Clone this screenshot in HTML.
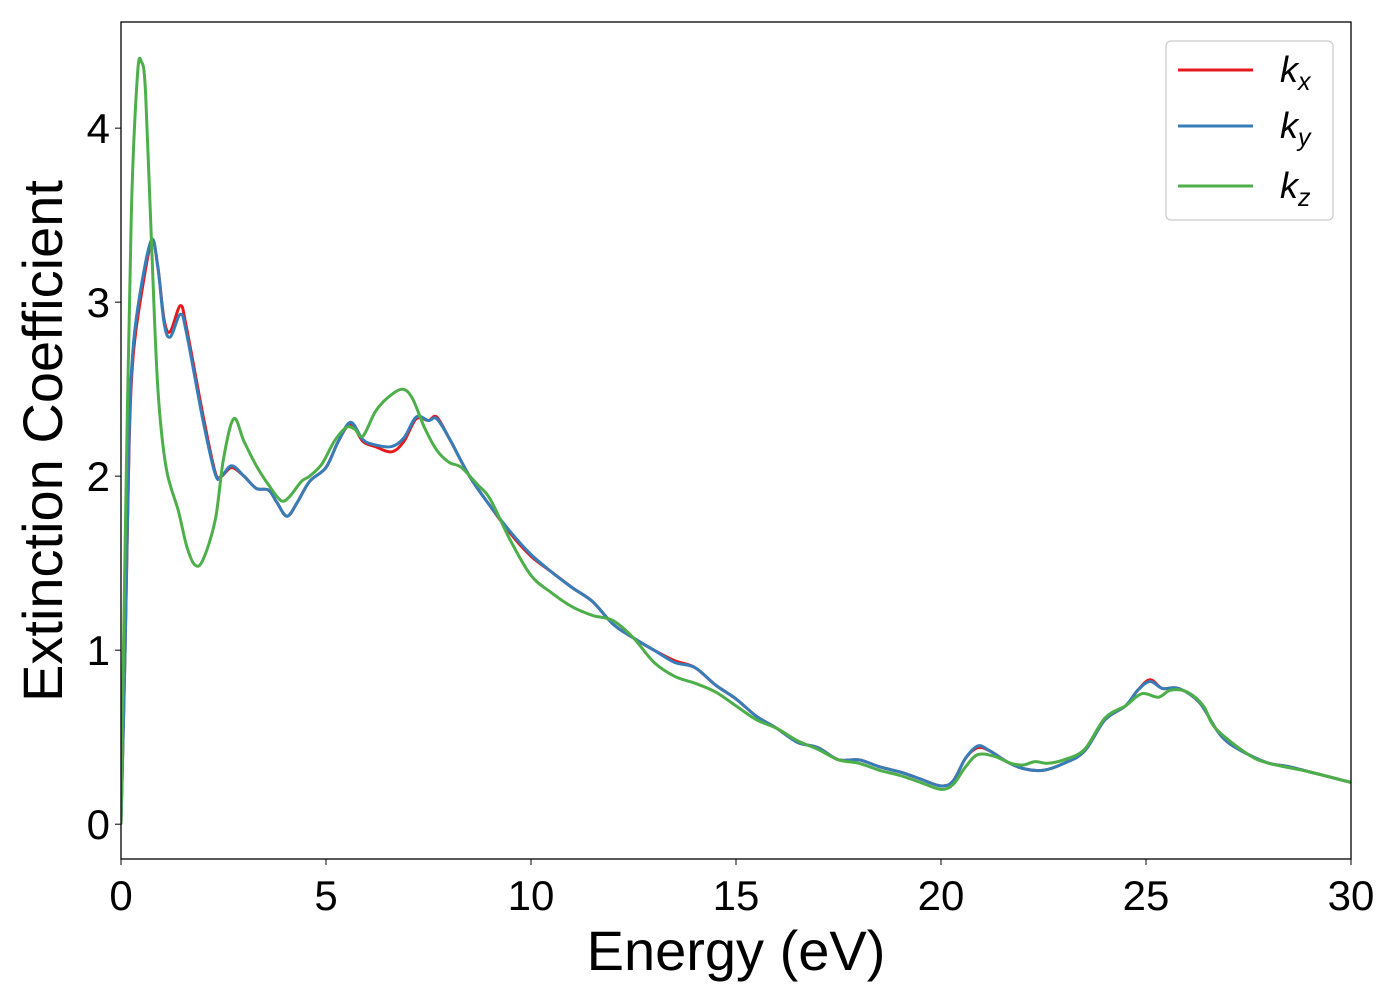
<!DOCTYPE html>
<html><head><meta charset="utf-8"><style>
html,body{margin:0;padding:0;background:#fff}
svg{display:block;font-family:"Liberation Sans","DejaVu Sans",sans-serif}
</style></head><body>
<svg id="chart" width="1400" height="1000">
<rect x="0" y="0" width="1400" height="1000" fill="#fff"/>
<g id="plot"></g>
<rect x="121" y="22" width="1230" height="837" fill="none" stroke="#000" stroke-width="1.3"/>
<g id="ticks"></g>
<text x="736" y="970" font-size="56" text-anchor="middle">Energy (eV)</text>
<text transform="translate(62,441) rotate(-90)" font-size="56" text-anchor="middle">Extinction Coefficient</text>
<g>
<rect x="1166" y="41" width="167" height="179" rx="5" fill="#fff" stroke="#ccc" stroke-width="1.3"/>
<line x1="1178" y1="70" x2="1253" y2="70" stroke="#e41a1c" stroke-width="3"/>
<text x="1280" y="82" font-size="36" font-style="italic">k<tspan font-size="25" dy="8">x</tspan></text>
<line x1="1178" y1="126" x2="1253" y2="126" stroke="#377eb8" stroke-width="3"/>
<text x="1280" y="138" font-size="36" font-style="italic">k<tspan font-size="25" dy="8">y</tspan></text>
<line x1="1178" y1="186" x2="1253" y2="186" stroke="#4daf4a" stroke-width="3"/>
<text x="1280" y="198" font-size="36" font-style="italic">k<tspan font-size="25" dy="8">z</tspan></text>
</g>
</svg>
<script>
const energyXY=[0,0.1,0.2,0.3,0.5,0.75,0.9,1.05,1.2,1.45,1.6,2.0,2.3,2.45,2.7,3.0,3.3,3.6,3.8,4.05,4.3,4.6,5.0,5.3,5.6,5.9,6.2,6.6,6.9,7.2,7.5,7.7,8.0,8.5,9.0,9.5,10,10.5,11,11.5,12,12.5,13,13.5,14,14.5,15,15.5,16,16.5,17,17.5,18,18.5,19,19.5,20,20.3,20.6,20.9,21.2,21.6,22,22.5,23,23.5,24,24.5,24.8,25.1,25.4,25.8,26.3,26.7,27,27.5,28,28.5,29,29.5,30];
const kxVals=[0,1.0,2.2,2.7,3.05,3.35,3.2,2.9,2.83,2.98,2.85,2.35,2.02,2.0,2.05,2.0,1.93,1.92,1.85,1.77,1.85,1.97,2.05,2.2,2.3,2.2,2.17,2.14,2.2,2.33,2.32,2.34,2.22,2.0,1.83,1.67,1.54,1.45,1.36,1.28,1.15,1.07,1.0,0.94,0.9,0.8,0.72,0.62,0.55,0.47,0.44,0.37,0.37,0.33,0.3,0.26,0.22,0.25,0.38,0.44,0.42,0.36,0.32,0.31,0.35,0.42,0.6,0.68,0.77,0.83,0.78,0.78,0.7,0.55,0.47,0.4,0.35,0.33,0.3,0.27,0.24];
const kyVals=[0,1.0,2.25,2.75,3.1,3.36,3.2,2.88,2.8,2.93,2.82,2.32,2.01,2.0,2.06,2.0,1.93,1.92,1.85,1.77,1.85,1.97,2.05,2.2,2.31,2.21,2.18,2.17,2.22,2.34,2.32,2.33,2.22,2.0,1.83,1.68,1.55,1.45,1.36,1.28,1.15,1.07,1.0,0.93,0.9,0.8,0.72,0.62,0.55,0.47,0.44,0.37,0.37,0.33,0.3,0.26,0.22,0.25,0.38,0.45,0.42,0.36,0.32,0.31,0.35,0.42,0.6,0.68,0.77,0.82,0.78,0.78,0.7,0.55,0.47,0.4,0.35,0.33,0.3,0.27,0.24];
const energyZ=[0,0.1,0.25,0.4,0.5,0.6,0.75,0.9,1.1,1.4,1.6,1.8,2.0,2.3,2.5,2.75,3.0,3.3,3.6,3.9,4.1,4.4,4.6,4.9,5.2,5.5,5.7,5.9,6.2,6.5,6.85,7.1,7.4,7.7,8.0,8.3,8.7,9.0,9.5,10,10.5,11,11.5,12,12.5,13,13.5,14,14.5,15,15.5,16,16.5,17,17.5,18,18.5,19,19.5,20,20.3,20.6,20.9,21.3,21.7,22,22.3,22.6,23,23.5,24,24.5,24.9,25.3,25.6,26,26.4,26.7,27.5,28,29,30];
const kzVals=[0,1.6,3.5,4.3,4.38,4.2,3.3,2.5,2.05,1.8,1.6,1.49,1.52,1.75,2.1,2.33,2.2,2.06,1.95,1.86,1.88,1.97,2.0,2.07,2.2,2.28,2.27,2.23,2.37,2.45,2.5,2.45,2.28,2.15,2.08,2.05,1.95,1.87,1.63,1.43,1.33,1.25,1.2,1.17,1.07,0.93,0.85,0.81,0.76,0.68,0.6,0.55,0.48,0.43,0.37,0.35,0.31,0.28,0.24,0.2,0.23,0.33,0.4,0.39,0.35,0.34,0.36,0.35,0.37,0.43,0.61,0.68,0.75,0.73,0.77,0.76,0.68,0.55,0.4,0.35,0.3,0.24];
const xTicks=[0,5,10,15,20,25,30];
const yTicks=[0,1,2,3,4];

const X0=121,X1=1351,XMIN=0,XMAX=30,Y0=859,Y1=22,YMIN=-0.2,YMAX=4.61;
const sx=v=>X0+(v-XMIN)/(XMAX-XMIN)*(X1-X0);
const sy=v=>Y0-(v-YMIN)/(YMAX-YMIN)*(Y0-Y1);
const NS='http://www.w3.org/2000/svg';
function pathFor(xs,ys){
  const p=xs.map((x,i)=>[sx(x),sy(ys[i])]);
  let d='M'+p[0][0].toFixed(1)+','+p[0][1].toFixed(1);
  for(let i=0;i<p.length-1;i++){
    const a=p[Math.max(0,i-1)],b=p[i],c=p[i+1],e=p[Math.min(p.length-1,i+2)];
    const c1=[b[0]+(c[0]-a[0])/6,b[1]+(c[1]-a[1])/6],c2=[c[0]-(e[0]-b[0])/6,c[1]-(e[1]-b[1])/6];
    d+='C'+c1.map(v=>v.toFixed(1))+' '+c2.map(v=>v.toFixed(1))+' '+c[0].toFixed(1)+','+c[1].toFixed(1);
  }
  return d;
}
const plot=document.getElementById('plot');
const cp=document.createElementNS(NS,'clipPath');cp.id='clip';
const cr=document.createElementNS(NS,'rect');cr.setAttribute('x',X0);cr.setAttribute('y',Y1);cr.setAttribute('width',X1-X0);cr.setAttribute('height',Y0-Y1);
cp.appendChild(cr);plot.appendChild(cp);
function addSeries(xs,ys,color,name){
  const el=document.createElementNS(NS,'path');
  el.setAttribute('d',pathFor(xs,ys));el.setAttribute('fill','none');el.setAttribute('stroke',color);
  el.setAttribute('stroke-width','3');el.setAttribute('clip-path','url(#clip)');el.setAttribute('stroke-linejoin','round');
  
  
  plot.appendChild(el);
}
addSeries(energyXY,kxVals,'#e41a1c','series-kx');
addSeries(energyXY,kyVals,'#377eb8','series-ky');
addSeries(energyZ,kzVals,'#4daf4a','series-kz');
const tk=document.getElementById('ticks');
xTicks.forEach(v=>{
  const l=document.createElementNS(NS,'line');
  l.setAttribute('x1',sx(v));l.setAttribute('x2',sx(v));l.setAttribute('y1',Y0);l.setAttribute('y2',Y0+6);l.setAttribute('stroke','#000');
  
  
  tk.appendChild(l);
  const t=document.createElementNS(NS,'text');
  t.setAttribute('x',sx(v));t.setAttribute('y',910);t.setAttribute('font-size','42');t.setAttribute('text-anchor','middle');
  t.textContent=v;
  
  
  tk.appendChild(t);
});
yTicks.forEach(v=>{
  const l=document.createElementNS(NS,'line');
  l.setAttribute('x1',X0-6);l.setAttribute('x2',X0);l.setAttribute('y1',sy(v));l.setAttribute('y2',sy(v));l.setAttribute('stroke','#000');
  
  
  tk.appendChild(l);
  const t=document.createElementNS(NS,'text');
  t.setAttribute('x',110);t.setAttribute('y',sy(v)+15);t.setAttribute('font-size','42');t.setAttribute('text-anchor','end');
  t.textContent=v;
  
  
  tk.appendChild(t);
});
</script>
</body></html>
